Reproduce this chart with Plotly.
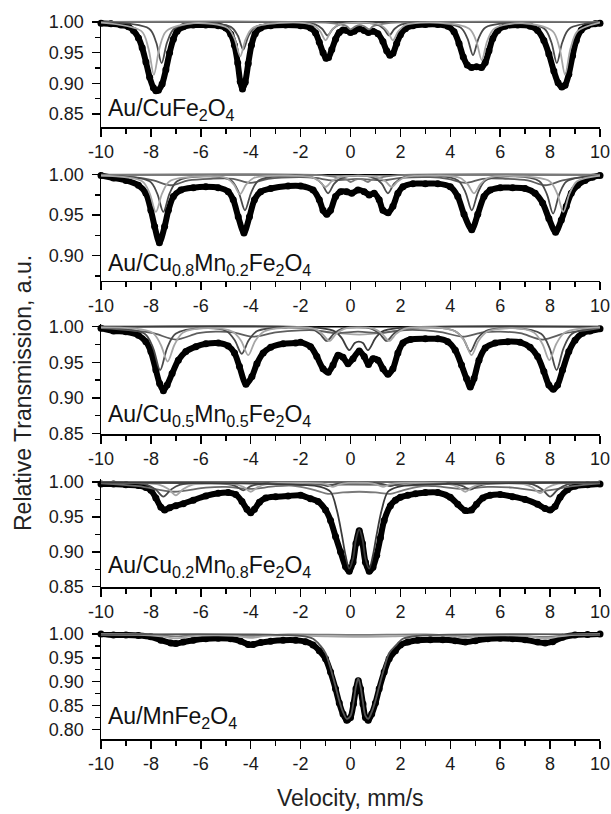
import plotly.graph_objects as go

# ---------------- Panel 1: Au/CuFe2O4 ----------------
v1 = [-10, -9.6, -9.2, -8.9, -8.7, -8.5, -8.35, -8.2, -8.05, -7.9, -7.8, -7.7, -7.55, -7.4, -7.25, -7.1, -6.95,
      -6.7, -6.3, -5.8, -5.3, -5.0, -4.8, -4.65, -4.52, -4.42, -4.33, -4.22, -4.1, -3.97, -3.82, -3.6, -3.2, -2.6,
      -2.0, -1.6, -1.4, -1.25, -1.1, -0.98, -0.88, -0.75, -0.6, -0.45, -0.3, -0.15, 0.0, 0.15, 0.35, 0.55, 0.72,
      0.9, 1.1, 1.3, 1.45, 1.58, 1.7, 1.85, 2.0, 2.2, 2.5, 3.0, 3.5, 3.9, 4.15, 4.35, 4.52, 4.68, 4.85, 5.05, 5.25,
      5.4, 5.55, 5.7, 5.9, 6.2, 6.7, 7.2, 7.5, 7.75, 7.95, 8.15, 8.32, 8.47, 8.6, 8.75, 8.9, 9.05, 9.25, 9.5, 9.8, 10.0]
t1 = [0.998, 0.997, 0.995, 0.992, 0.986, 0.974, 0.958, 0.935, 0.91, 0.893, 0.888, 0.889, 0.899, 0.922, 0.95, 0.972,
      0.985, 0.992, 0.995, 0.995, 0.994, 0.99, 0.98, 0.962, 0.933, 0.903, 0.891, 0.902, 0.932, 0.962, 0.981, 0.99,
      0.994, 0.995, 0.994, 0.99, 0.982, 0.967, 0.95, 0.941, 0.942, 0.955, 0.972, 0.983, 0.987, 0.986, 0.983, 0.985,
      0.989, 0.986, 0.983, 0.985, 0.981, 0.968, 0.953, 0.946, 0.949, 0.965, 0.979, 0.989, 0.994, 0.996, 0.996, 0.993,
      0.984, 0.965, 0.943, 0.93, 0.926, 0.927, 0.926, 0.934, 0.953, 0.973, 0.986, 0.993, 0.995, 0.993, 0.986, 0.97,
      0.948, 0.92, 0.901, 0.894, 0.897, 0.915, 0.945, 0.97, 0.987, 0.994, 0.997, 0.998]

c1a_v = [-10, -8.07, -7.79, -7.57, -7.35, -7.07, -6.2, -4.80, -4.52, -4.30, -4.08, -3.80, -2.5, -1.42, -1.14, -0.92,
         -0.70, -0.42, 0.3, 1.05, 1.33, 1.55, 1.77, 2.05, 3.3, 4.41, 4.69, 4.91, 5.13, 5.41, 6.6, 7.77, 8.05, 8.27,
         8.49, 8.77, 10]
c1a_t = [1.0, 0.989, 0.967, 0.933, 0.967, 0.989, 0.998, 0.992, 0.978, 0.955, 0.978, 0.992, 0.999, 0.996, 0.989, 0.978,
         0.989, 0.996, 0.999, 0.996, 0.989, 0.978, 0.989, 0.996, 0.999, 0.991, 0.973, 0.946, 0.973, 0.991, 0.998, 0.989,
         0.967, 0.933, 0.967, 0.989, 1.0]
c1b_v = [-10, -8.38, -8.10, -7.88, -7.66, -7.38, -6.3, -4.92, -4.64, -4.42, -4.20, -3.92, -2.6, -1.5, -1.22, -1.0,
         -0.78, -0.5, 0.35, 1.2, 1.48, 1.70, 1.92, 2.2, 3.5, 4.76, 5.04, 5.26, 5.48, 5.76, 6.9, 8.10, 8.38, 8.60, 8.82,
         9.10, 10]
c1b_t = [0.999, 0.985, 0.957, 0.914, 0.957, 0.985, 0.998, 0.990, 0.972, 0.944, 0.972, 0.990, 0.999, 0.995, 0.985, 0.970,
         0.985, 0.995, 0.999, 0.995, 0.985, 0.970, 0.985, 0.995, 0.999, 0.989, 0.969, 0.938, 0.969, 0.989, 0.998, 0.985,
         0.957, 0.914, 0.957, 0.985, 0.999]
c1c_v = [-10, -1.0, -0.4, -0.15, 0.0, 0.2, 0.37, 0.55, 0.75, 0.9, 1.15, 1.8, 10]
c1c_t = [1.0, 0.999, 0.996, 0.993, 0.988, 0.993, 0.995, 0.993, 0.988, 0.993, 0.996, 0.999, 1.0]

# ---------------- Panel 2: Au/Cu0.8Mn0.2Fe2O4 ----------------
v2 = [-10, -9.5, -9.0, -8.5, -8.2, -8.0, -7.85, -7.66, -7.45, -7.3, -7.1, -6.8, -6.3, -5.8, -5.3, -4.9, -4.7, -4.5,
      -4.27, -4.05, -3.85, -3.6, -3.2, -2.5, -2.0, -1.5, -1.25, -1.1, -0.95, -0.8, -0.6, -0.4, -0.15, 0.05, 0.3, 0.55,
      0.75, 0.95, 1.15, 1.3, 1.51, 1.7, 1.9, 2.1, 2.5, 3.0, 3.5, 4.0, 4.3, 4.55, 4.86, 5.1, 5.35, 5.6, 6.0, 6.5, 7.0,
      7.4, 7.7, 7.95, 8.22, 8.45, 8.65, 8.85, 9.1, 9.4, 9.7, 10.0]
t2 = [0.999, 0.996, 0.993, 0.987, 0.977, 0.956, 0.936, 0.916, 0.936, 0.956, 0.973, 0.981, 0.984, 0.985, 0.984, 0.979,
      0.969, 0.948, 0.928, 0.948, 0.969, 0.979, 0.983, 0.986, 0.986, 0.981, 0.969, 0.956, 0.951, 0.956, 0.973, 0.979,
      0.979, 0.977, 0.981, 0.979, 0.975, 0.977, 0.969, 0.956, 0.953, 0.961, 0.977, 0.985, 0.989, 0.989, 0.989, 0.985,
      0.973, 0.951, 0.932, 0.951, 0.973, 0.981, 0.984, 0.984, 0.983, 0.977, 0.965, 0.946, 0.929, 0.944, 0.961, 0.977,
      0.987, 0.993, 0.997, 0.999]

c2a_v = [-10, -8.35, -8.05, -7.80, -7.55, -7.25, -6.0, -4.98, -4.68, -4.43, -4.18, -3.88, -2.5, -1.55, -1.25, -1.0,
         -0.75, -0.45, 0.3, 1.1, 1.4, 1.65, 1.9, 2.2, 3.5, 4.40, 4.70, 4.95, 5.20, 5.50, 6.8, 7.98, 8.28, 8.53, 8.78,
         9.08, 10]
c2a_t = [0.999, 0.992, 0.977, 0.954, 0.977, 0.992, 0.998, 0.996, 0.988, 0.976, 0.988, 0.996, 0.999, 0.997, 0.992, 0.985,
         0.992, 0.997, 0.999, 0.997, 0.992, 0.985, 0.992, 0.997, 0.999, 0.996, 0.988, 0.977, 0.988, 0.996, 0.998, 0.992,
         0.977, 0.954, 0.977, 0.992, 0.999]
c2b_v = [-10, -8.05, -7.75, -7.50, -7.25, -6.95, -5.9, -4.78, -4.48, -4.23, -3.98, -3.68, -2.4, -1.45, -1.15, -0.9,
         -0.65, -0.35, 0.3, 0.95, 1.25, 1.5, 1.75, 2.05, 3.4, 4.31, 4.61, 4.86, 5.11, 5.41, 6.6, 7.57, 7.87, 8.12, 8.37,
         8.67, 10]
c2b_t = [0.999, 0.992, 0.977, 0.954, 0.977, 0.992, 0.998, 0.993, 0.978, 0.956, 0.978, 0.993, 0.999, 0.996, 0.989, 0.977,
         0.989, 0.996, 0.999, 0.996, 0.989, 0.977, 0.989, 0.996, 0.999, 0.993, 0.978, 0.956, 0.978, 0.993, 0.998, 0.992,
         0.976, 0.952, 0.976, 0.992, 0.999]
c2c_v = [-10, -8.7, -7.9, -7.2, -6.5, -5.6, -4.7, -4.0, -3.3, -2.0, -1.4, -0.7, 0.3, 1.3, 2.0, 3.2, 3.9, 4.6, 5.3, 6.2,
         7.1, 7.8, 8.5, 9.3, 10]
c2c_t = [0.999, 0.997, 0.993, 0.987, 0.993, 0.995, 0.995, 0.990, 0.995, 0.997, 0.996, 0.993, 0.995, 0.993, 0.996, 0.997,
         0.995, 0.990, 0.995, 0.995, 0.993, 0.987, 0.993, 0.997, 0.999]
c2d_v = [-10, -1.0, -0.4, -0.15, 0.0, 0.2, 0.35, 0.5, 0.7, 0.85, 1.1, 1.7, 10]
c2d_t = [1.0, 0.999, 0.996, 0.994, 0.991, 0.994, 0.995, 0.994, 0.991, 0.994, 0.996, 0.999, 1.0]

# ---------------- Panel 3: Au/Cu0.5Mn0.5Fe2O4 ----------------
v3 = [-10, -9.5, -9.0, -8.5, -8.2, -8.0, -7.8, -7.65, -7.5, -7.35, -7.15, -6.9, -6.6, -6.2, -5.8, -5.3, -4.9, -4.65,
      -4.45, -4.19, -3.95, -3.75, -3.5, -3.2, -2.7, -2.2, -2.0, -1.6, -1.35, -1.1, -0.89, -0.7, -0.5, -0.3, -0.1, 0.1,
      0.35, 0.55, 0.72, 0.9, 1.1, 1.3, 1.5, 1.7, 1.9, 2.1, 2.4, 3.0, 3.5, 3.9, 4.2, 4.45, 4.65, 4.8, 4.95, 5.15, 5.4,
      5.8, 6.3, 6.8, 7.2, 7.5, 7.75, 7.95, 8.13, 8.3, 8.5, 8.75, 9.0, 9.3, 9.6, 10.0]
t3 = [0.998, 0.994, 0.993, 0.988, 0.979, 0.965, 0.939, 0.92, 0.91, 0.918, 0.934, 0.953, 0.965, 0.972, 0.976, 0.977,
      0.973, 0.963, 0.944, 0.919, 0.93, 0.948, 0.963, 0.971, 0.976, 0.977, 0.978, 0.972, 0.958, 0.941, 0.936, 0.946,
      0.96, 0.957, 0.948, 0.955, 0.966, 0.958, 0.947, 0.955, 0.953, 0.941, 0.933, 0.941, 0.963, 0.977, 0.982, 0.983,
      0.983, 0.979, 0.967, 0.946, 0.927, 0.915, 0.927, 0.953, 0.970, 0.977, 0.979, 0.978, 0.971, 0.958, 0.937, 0.918,
      0.912, 0.918, 0.939, 0.965, 0.981, 0.991, 0.994, 0.997]

c3a_v = [-10, -8.25, -7.91, -7.63, -7.35, -7.01, -5.9, -4.98, -4.64, -4.36, -4.08, -3.74, -2.5, -1.55, -1.23, -0.95,
         -0.67, -0.35, 0.25, 0.85, 1.17, 1.45, 1.73, 2.05, 3.3, 4.18, 4.52, 4.80, 5.08, 5.42, 6.6, 7.64, 7.98, 8.26,
         8.54, 8.88, 10]
c3a_t = [0.999, 0.99, 0.970, 0.939, 0.970, 0.99, 0.998, 0.994, 0.981, 0.962, 0.981, 0.994, 0.999, 0.997, 0.99, 0.98,
         0.99, 0.997, 0.999, 0.997, 0.99, 0.98, 0.99, 0.997, 0.999, 0.994, 0.983, 0.965, 0.983, 0.994, 0.998, 0.99,
         0.970, 0.939, 0.970, 0.99, 0.999]
c3b_v = [-10, -7.95, -7.61, -7.33, -7.05, -6.71, -5.7, -4.72, -4.38, -4.10, -3.82, -3.48, -2.4, -1.45, -1.13, -0.85,
         -0.57, -0.25, 0.35, 0.95, 1.27, 1.55, 1.83, 2.15, 3.4, 4.23, 4.57, 4.85, 5.13, 5.47, 6.5, 7.35, 7.69, 7.97,
         8.25, 8.59, 10]
c3b_t = [0.999, 0.992, 0.975, 0.951, 0.975, 0.992, 0.998, 0.993, 0.98, 0.960, 0.98, 0.993, 0.999, 0.997, 0.99, 0.98,
         0.99, 0.997, 0.999, 0.997, 0.99, 0.98, 0.99, 0.997, 0.999, 0.993, 0.98, 0.960, 0.98, 0.993, 0.998, 0.992,
         0.976, 0.953, 0.976, 0.992, 0.999]
c3c_v = [-10, -8.8, -7.9, -7.0, -6.1, -5.4, -4.7, -3.9, -3.0, -2.0, -1.4, -0.6, 0.3, 1.2, 2.0, 3.0, 3.7, 4.5, 5.3,
         6.0, 6.8, 7.7, 8.6, 9.4, 10]
c3c_t = [0.998, 0.995, 0.991, 0.982, 0.991, 0.993, 0.992, 0.986, 0.992, 0.995, 0.995, 0.991, 0.993, 0.991, 0.995,
         0.995, 0.992, 0.986, 0.992, 0.993, 0.991, 0.982, 0.991, 0.995, 0.998]
c3d_v = [-10, -1.2, -0.6, -0.35, -0.05, 0.17, 0.33, 0.5, 0.7, 1.0, 1.25, 1.9, 10]
c3d_t = [1.0, 0.998, 0.993, 0.984, 0.967, 0.977, 0.979, 0.977, 0.967, 0.984, 0.993, 0.998, 1.0]
c3e_v = [-10, -2.0, -1.0, 0.35, 1.7, 2.7, 10]
c3e_t = [1.0, 0.998, 0.993, 0.989, 0.993, 0.998, 1.0]

# ---------------- Panel 4: Au/Cu0.2Mn0.8Fe2O4 ----------------
v4 = [-10, -9.5, -9.0, -8.5, -8.2, -8.0, -7.8, -7.6, -7.45, -7.25, -7.0, -6.7, -6.3, -5.8, -5.3, -4.9, -4.6, -4.35,
      -4.15, -4.0, -3.85, -3.65, -3.4, -3.0, -2.5, -2.0, -1.6, -1.3, -1.0, -0.8, -0.6, -0.4, -0.2, -0.05, 0.1, 0.22,
      0.35, 0.48, 0.6, 0.75, 0.9, 1.05, 1.2, 1.35, 1.6, 1.8, 2.0, 2.3, 2.6, 3.0, 3.5, 4.0, 4.3, 4.6, 4.85, 5.05, 5.3,
      5.6, 6.0, 6.5, 7.0, 7.5, 7.8, 8.0, 8.2, 8.4, 8.7, 9.0, 9.5, 10.0]
t4 = [0.997, 0.997, 0.996, 0.995, 0.992, 0.988, 0.977, 0.964, 0.96, 0.963, 0.966, 0.969, 0.974, 0.98, 0.984, 0.985,
      0.982, 0.972, 0.961, 0.956, 0.961, 0.971, 0.977, 0.979, 0.98, 0.981, 0.976, 0.972, 0.96, 0.945, 0.922, 0.9,
      0.879, 0.872, 0.885, 0.912, 0.93, 0.912, 0.885, 0.872, 0.878, 0.895, 0.92, 0.945, 0.966, 0.974, 0.978, 0.981,
      0.983, 0.985, 0.985, 0.978, 0.968, 0.959, 0.96, 0.968, 0.977, 0.981, 0.982, 0.979, 0.975, 0.968, 0.962, 0.96,
      0.965, 0.978, 0.989, 0.994, 0.996, 0.997]

c4a_v = [-10, -1.9, -1.2, -0.8, -0.55, -0.35, -0.2, -0.05, 0.1, 0.22, 0.35, 0.48, 0.6, 0.75, 0.9, 1.05, 1.25, 1.5,
         1.9, 2.6, 10]
c4a_t = [0.999, 0.996, 0.993, 0.986, 0.96, 0.925, 0.895, 0.876, 0.89, 0.918, 0.932, 0.918, 0.89, 0.876, 0.895, 0.925,
         0.96, 0.986, 0.993, 0.996, 0.999]
c4b_v = [-10, -3.0, -2.0, -1.3, -0.9, -0.3, 0.35, 1.0, 1.6, 2.0, 2.7, 3.7, 10]
c4b_t = [0.999, 0.997, 0.993, 0.987, 0.983, 0.985, 0.986, 0.985, 0.983, 0.987, 0.993, 0.997, 0.999]
c4c_v = [-10, -8.15, -7.8, -7.5, -7.2, -6.85, -5.6, -4.95, -4.6, -4.3, -4.0, -3.65, -2.0, -1.2, -0.9, -0.6, 0.4, 1.3,
         1.6, 1.9, 3.2, 4.15, 4.5, 4.8, 5.1, 5.45, 6.8, 7.35, 7.7, 8.0, 8.3, 8.65, 10]
c4c_t = [0.999, 0.996, 0.989, 0.979, 0.989, 0.996, 0.998, 0.997, 0.994, 0.988, 0.994, 0.997, 0.999, 0.997, 0.994,
         0.997, 0.999, 0.997, 0.994, 0.997, 0.999, 0.997, 0.994, 0.989, 0.994, 0.997, 0.998, 0.996, 0.989, 0.979,
         0.989, 0.996, 0.999]
c4d_v = [-10, -7.65, -7.3, -7.0, -6.7, -6.35, -5.2, -4.65, -4.3, -4.0, -3.7, -3.35, -2.0, -1.0, -0.7, -0.4, 0.3, 1.0,
         1.3, 1.6, 3.0, 3.95, 4.3, 4.6, 4.9, 5.25, 6.4, 6.95, 7.3, 7.6, 7.9, 8.25, 10]
c4d_t = [0.999, 0.996, 0.99, 0.981, 0.99, 0.996, 0.998, 0.997, 0.993, 0.986, 0.993, 0.997, 0.999, 0.997, 0.993,
         0.997, 0.999, 0.997, 0.993, 0.997, 0.999, 0.997, 0.993, 0.986, 0.993, 0.997, 0.998, 0.997, 0.992, 0.984,
         0.992, 0.997, 0.999]
c4e_v = [-10, -8.5, -7.1, -5.8, -5.0, -4.0, -3.0, -1.5, 1.5, 3.4, 4.5, 5.5, 6.5, 7.7, 8.9, 10]
c4e_t = [0.998, 0.994, 0.986, 0.992, 0.993, 0.99, 0.994, 0.996, 0.996, 0.994, 0.99, 0.993, 0.992, 0.987, 0.994, 0.998]

# ---------------- Panel 5: Au/MnFe2O4 ----------------
v5 = [-10, -9.5, -9.0, -8.5, -8.0, -7.6, -7.2, -7.0, -6.7, -6.3, -5.8, -5.3, -4.8, -4.4, -4.1, -3.9, -3.6, -3.2, -2.7,
      -2.2, -1.8, -1.5, -1.25, -1.0, -0.8, -0.6, -0.45, -0.3, -0.15, 0.0, 0.12, 0.22, 0.31, 0.4, 0.5, 0.6, 0.71, 0.85,
      1.0, 1.15, 1.35, 1.55, 1.8, 2.0, 2.3, 2.7, 3.2, 3.7, 4.2, 4.6, 5.0, 5.5, 6.0, 6.5, 7.0, 7.5, 7.8, 8.1, 8.5, 9.0,
      9.5, 10.0]
t5 = [1.0, 0.998, 0.998, 0.997, 0.994, 0.987, 0.981, 0.98, 0.983, 0.987, 0.99, 0.991, 0.99, 0.985, 0.978, 0.978,
      0.982, 0.985, 0.987, 0.987, 0.984, 0.977, 0.965, 0.948, 0.92, 0.885, 0.855, 0.832, 0.819, 0.825, 0.853, 0.885,
      0.902, 0.885, 0.853, 0.825, 0.819, 0.832, 0.855, 0.885, 0.92, 0.948, 0.965, 0.977, 0.983, 0.987, 0.988, 0.988,
      0.986, 0.983, 0.986, 0.99, 0.991, 0.99, 0.988, 0.983, 0.981, 0.984, 0.993, 0.998, 0.999, 1.0]

c5a_v = [-10, -2.0, -1.5, -1.2, -1.0, -0.8, -0.6, -0.45, -0.3, -0.15, 0.0, 0.12, 0.22, 0.31, 0.4, 0.5, 0.6, 0.71, 0.85,
         1.0, 1.15, 1.35, 1.55, 1.8, 2.1, 2.7, 10]
c5a_t = [0.999, 0.996, 0.99, 0.975, 0.96, 0.928, 0.89, 0.86, 0.836, 0.822, 0.828, 0.856, 0.89, 0.907, 0.89, 0.856,
         0.828, 0.822, 0.836, 0.86, 0.89, 0.928, 0.96, 0.975, 0.99, 0.996, 0.999]
c5b_v = [-10, -8.5, -7.6, -7.0, -6.4, -5.5, -4.6, -4.0, -3.4, -2.5, -1.0, 0.35, 1.7, 3.0, 4.0, 4.6, 5.2, 6.5, 7.2,
         7.8, 8.4, 9.0, 10]
c5b_t = [0.999, 0.998, 0.995, 0.991, 0.995, 0.997, 0.996, 0.992, 0.996, 0.997, 0.995, 0.994, 0.995, 0.997, 0.996,
         0.992, 0.996, 0.997, 0.995, 0.99, 0.995, 0.998, 0.999]
c5c_v = [-10, -8.0, -7.0, -6.0, -4.0, -2.5, 0.35, 3.0, 4.6, 6.0, 7.8, 9.0, 10]
c5c_t = [1.0, 0.999, 0.995, 0.998, 0.996, 0.999, 0.998, 0.999, 0.995, 0.998, 0.994, 0.999, 1.0]

base_v = [-10, 10]
base_t = [1.0, 1.0]

labels = ["Au/CuFe<sub>2</sub>O<sub>4</sub>",
          "Au/Cu<sub>0.8</sub>Mn<sub>0.2</sub>Fe<sub>2</sub>O<sub>4</sub>",
          "Au/Cu<sub>0.5</sub>Mn<sub>0.5</sub>Fe<sub>2</sub>O<sub>4</sub>",
          "Au/Cu<sub>0.2</sub>Mn<sub>0.8</sub>Fe<sub>2</sub>O<sub>4</sub>",
          "Au/MnFe<sub>2</sub>O<sub>4</sub>"]
x_ticks = [-10, -8, -6, -4, -2, 0, 2, 4, 6, 8, 10]
x_ticktext = ["-10", "-8", "-6", "-4", "-2", "0", "2", "4", "6", "8", "10"]

# ---------------- styling / layout ----------------
W, H = 611, 814
DARK, MID, LIGHT = "#4a4a4a", "#7a7a7a", "#a6a6a6"
FONT = "Liberation Sans, Arial, sans-serif"

panels = [
    dict(v=v1, t=t1, comps=[(c1c_v, c1c_t, MID), (c1a_v, c1a_t, DARK), (c1b_v, c1b_t, LIGHT)],
         base="#000000", yr=[0.829, 1.004], px=(19.5, 127)),
    dict(v=v2, t=t2, comps=[(c2c_v, c2c_t, "#5e5e5e"), (c2d_v, c2d_t, MID), (c2b_v, c2b_t, DARK), (c2a_v, c2a_t, LIGHT)],
         base="#000000", yr=[0.869, 1.004], px=(171.5, 280.7)),
    dict(v=v3, t=t3, comps=[(c3e_v, c3e_t, LIGHT), (c3c_v, c3c_t, "#5e5e5e"), (c3d_v, c3d_t, "#3c3c3c"),
                            (c3a_v, c3a_t, DARK), (c3b_v, c3b_t, LIGHT)],
         base="#000000", yr=[0.849, 1.004], px=(323.9, 434)),
    dict(v=v4, t=t4, comps=[(c4e_v, c4e_t, "#6a6a6a"), (c4b_v, c4b_t, MID), (c4c_v, c4c_t, DARK),
                            (c4d_v, c4d_t, LIGHT), (c4a_v, c4a_t, "#3a3a3a")],
         base="#3a3a3a", yr=[0.8496, 1.004], px=(479.2, 587)),
    dict(v=v5, t=t5, comps=[(c5c_v, c5c_t, MID), (c5b_v, c5b_t, LIGHT), (c5a_v, c5a_t, "#555555")],
         base=None, yr=[0.779, 1.004], px=(632.1, 739.3)),
]

fig = go.Figure()
layout = dict(template="none", width=W, height=H,
              margin=dict(l=0, r=0, t=0, b=0, pad=0, autoexpand=False),
              paper_bgcolor="white", plot_bgcolor="white", showlegend=False,
              font=dict(family=FONT, color="#1a1a1a"))

annotations = []
xdom = [101 / W, 600 / W]
for i, p in enumerate(panels, start=1):
    xa = "x" if i == 1 else f"x{i}"
    ya = "y" if i == 1 else f"y{i}"
    fig.add_trace(go.Scatter(x=p["v"], y=p["t"], mode="lines+markers", xaxis=xa, yaxis=ya,
                             line=dict(color="black", width=6, shape="spline", smoothing=0.8),
                             marker=dict(color="black", size=7), cliponaxis=False, hoverinfo="skip"))
    if p["base"]:
        fig.add_trace(go.Scatter(x=base_v, y=base_t, mode="lines", xaxis=xa, yaxis=ya,
                                 line=dict(color=p["base"], width=1.6), hoverinfo="skip"))
    for cv, ct, col in p["comps"]:
        fig.add_trace(go.Scatter(x=cv, y=ct, mode="lines", xaxis=xa, yaxis=ya,
                                 line=dict(color=col, width=1.8, shape="spline", smoothing=0.9),
                                 hoverinfo="skip"))
    top, bot = p["px"]
    common = dict(showline=True, linecolor="black", linewidth=1.5, ticks="outside", tickcolor="black",
                  tickwidth=1.5, ticklen=8, showgrid=False, zeroline=False, mirror=False, automargin=False,
                  tickfont=dict(family=FONT, size=18, color="#1a1a1a"))
    layout["xaxis" if i == 1 else f"xaxis{i}"] = dict(
        domain=xdom, range=[-10, 10], anchor=ya, tickmode="array", tickvals=x_ticks, ticktext=x_ticktext,
        minor=dict(dtick=1, tick0=0, ticks="outside", ticklen=5, tickwidth=1.5, tickcolor="black", showgrid=False),
        **common)
    layout["yaxis" if i == 1 else f"yaxis{i}"] = dict(
        domain=[1 - bot / H, 1 - top / H], range=p["yr"], anchor=xa, dtick=0.05, tick0=0,
        tickformat=".2f", ticklabelstandoff=4,
        minor=dict(dtick=0.025, tick0=0, ticks="outside", ticklen=5, tickwidth=1.5, tickcolor="black", showgrid=False),
        **common)
    label_bottom = [126, 281, 432, 583, 734][i - 1]
    annotations.append(dict(text=labels[i - 1], xref="paper", yref="paper", x=106 / W, y=1 - label_bottom / H,
                            xanchor="left", yanchor="bottom", showarrow=False,
                            font=dict(family=FONT, size=23, color="#111111")))

annotations.append(dict(text="Relative Transmission, a.u.", xref="paper", yref="paper", x=23 / W, y=1 - 393 / H,
                        xanchor="center", yanchor="middle", textangle=-90, showarrow=False,
                        font=dict(family=FONT, size=23, color="#222222")))
annotations.append(dict(text="Velocity, mm/s", xref="paper", yref="paper", x=350 / W, y=1 - 798 / H,
                        xanchor="center", yanchor="middle", showarrow=False,
                        font=dict(family=FONT, size=23, color="#222222")))
layout["annotations"] = annotations
fig.update_layout(**layout)
fig.write_html("out.html", config={"displayModeBar": False, "staticPlot": True},
               post_script="document.body.style.margin='0px';document.body.style.overflow='hidden';")
